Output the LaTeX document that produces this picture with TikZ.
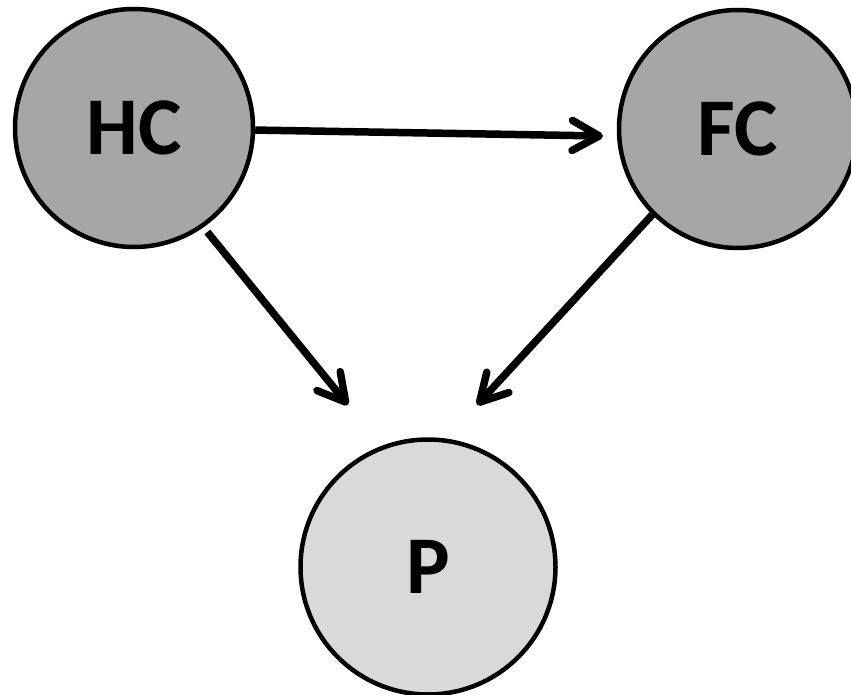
\documentclass[tikz,border=0pt]{standalone}
\usepackage{fontspec}
\setmainfont{Carlito}
\usepackage{tikz}
\usetikzlibrary{calc}
\usetikzlibrary{arrows.meta}

\definecolor{darkgr}{HTML}{A6A6A6}
\definecolor{lightgr}{HTML}{D9D9D9}

\begin{document}
\begin{tikzpicture}[x=1pt,y=-1pt,
    var/.style={circle,draw=black,line width=4.5pt,inner sep=0pt,
        font=\fontsize{82}{82}\selectfont\bfseries},
    arr/.style={line width=7.5pt,-{Straight Barb[length=27pt,width=30pt,round]}}]
            % 描画範囲を規定
            \useasboundingbox (0,0) rectangle (851,695);

            % 変数の円を描く
            \node[var,fill=darkgr,minimum size=238pt] (hc) at (134,128) {HC};
            \node[var,fill=darkgr,minimum size=238pt] (fc) at (738,129) {FC};
            \node[var,fill=lightgr,minimum size=255pt] (p) at (428,567) {P};

            % 矢印の先端
            \coordinate (fctip) at (603,136);
            \coordinate (ptipl) at (348,405);
            \coordinate (ptipr) at (477,405);

            % 矢印を描く
            \draw[arr] (hc) -- (fctip);
            \draw[arr,shorten <=6pt] (hc.-55) -- (ptipl);
            \draw[arr] (fc.225) -- (ptipr);

        \end{tikzpicture}
\end{document}
